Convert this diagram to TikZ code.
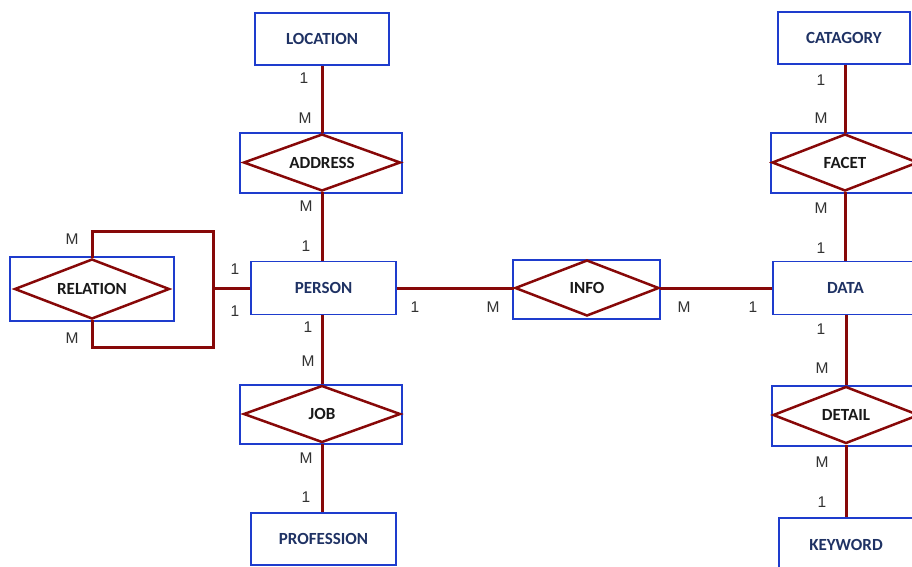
\documentclass[tikz,border=0pt]{standalone}
\usepackage{fontspec}
\setmainfont{Carlito}
\newfontfamily\cardfont{Liberation Sans}
\usetikzlibrary{shapes.geometric}
\definecolor{boxblue}{RGB}{30,60,205}
\definecolor{linered}{RGB}{135,8,8}
\definecolor{navy}{RGB}{31,50,100}
\definecolor{cardgray}{RGB}{50,50,50}
\tikzset{
  entity/.style={draw=boxblue, line width=1.5pt, rectangle, inner sep=0pt,
    font=\fontsize{17}{20}\selectfont\bfseries, text=navy},
  relbox/.style={draw=boxblue, line width=1.5pt, rectangle, inner sep=0pt},
  reldia/.style={draw=linered, line width=2.5pt, diamond, inner sep=0pt, aspect=2.6,
    font=\fontsize{17}{20}\selectfont\bfseries, text=black!90},
  conn/.style={draw=linered, line width=3pt},
  card/.style={font=\cardfont\fontsize{15.5}{18}\selectfont, text=cardgray, inner sep=0pt},
}
\begin{document}
\begin{tikzpicture}[x=1pt,y=-1pt]
\useasboundingbox (0,0) rectangle (912,566);
\clip (0,0) rectangle (912,566);
% entities
\node[entity, minimum width=134pt, minimum height=52pt] (location) at (322,39) {LOCATION};
\node[entity, minimum width=145pt, minimum height=53pt] (person) at (323.5,288) {PERSON};
\node[entity, minimum width=145pt, minimum height=52pt] (profession) at (323.5,539) {PROFESSION};
\node[entity, minimum width=145pt, minimum height=53pt] (data) at (845.5,288) {DATA};
\node[entity, minimum width=132pt, minimum height=52pt] (catagory) at (844,38) {CATAGORY};
\node[entity, minimum width=134pt, minimum height=60pt] (keyword) at (846,548) {};
\node[font=\fontsize{17}{20}\selectfont\bfseries, text=navy] (keywordtext) at (846,545) {KEYWORD};
% relationship boxes
\node[relbox, minimum width=162pt, minimum height=60pt] (addressbox) at (321,163) {};
\node[relbox, minimum width=162pt, minimum height=59pt] (jobbox) at (321,414.5) {};
\node[relbox, minimum width=164pt, minimum height=64pt] (relationbox) at (92,289) {};
\node[relbox, minimum width=147pt, minimum height=59pt] (infobox) at (586.5,289.5) {};
\node[relbox, minimum width=148pt, minimum height=60pt] (facetbox) at (845,163) {};
\node[relbox, minimum width=148pt, minimum height=60pt] (detailbox) at (846,416) {};
% diamonds
\node[reldia, minimum width=157pt, minimum height=57pt] (address) at (322,162.5) {ADDRESS};
\node[reldia, minimum width=157pt, minimum height=57pt] (job) at (322,414) {JOB};
\node[reldia, minimum width=155pt, minimum height=60pt] (relation) at (92,289) {RELATION};
\node[reldia, minimum width=144pt, minimum height=56pt] (info) at (587,288) {INFO};
\node[reldia, minimum width=146pt, minimum height=57pt] (facet) at (845,162.5) {FACET};
\node[reldia, minimum width=146pt, minimum height=57pt] (detail) at (846,415) {DETAIL};
% connectors
\draw[conn] (location.south) -- (address.north);
\draw[conn] (address.south) -- (address.south |- person.north);
\draw[conn] (job.north |- person.south) -- (job.north);
\draw[conn] (job.south) -- (job.south |- profession.north);
\draw[conn] (person.east) -- (info.west);
\draw[conn] (info.east) -- (data.west);
\draw[conn] (facet.north |- catagory.south) -- (facet.north);
\draw[conn] (facet.south) -- (facet.south |- data.north);
\draw[conn] (detail.north |- data.south) -- (detail.north);
\draw[conn] (detail.south) -- (detail.south |- keyword.north);
\coordinate (looptop) at (92,231);
\coordinate (loopright) at (213,288);
\coordinate (loopbot) at (92,347);
\draw[conn] (relation.north) -- (looptop) -| (loopright) |- (loopbot) -- (relation.south);
\draw[conn] (loopright) -- (person.west);
% cardinalities
\node[card] (c1) at (304,78) {1};
\node[card] (c2) at (305,118) {M};
\node[card] (c3) at (306,206) {M};
\node[card] (c4) at (306,246) {1};
\node[card] (c5) at (308,327) {1};
\node[card] (c6) at (308,361) {M};
\node[card] (c7) at (306,458) {M};
\node[card] (c8) at (306,497) {1};
\node[card] (c9) at (72,239) {M};
\node[card] (c10) at (72,338) {M};
\node[card] (c11) at (235,269) {1};
\node[card] (c12) at (235,311) {1};
\node[card] (c13) at (415,307) {1};
\node[card] (c14) at (493,307) {M};
\node[card] (c15) at (684,307) {M};
\node[card] (c16) at (753,307) {1};
\node[card] (c17) at (821,80) {1};
\node[card] (c18) at (821,118) {M};
\node[card] (c19) at (821,208) {M};
\node[card] (c20) at (821,248) {1};
\node[card] (c21) at (821,329) {1};
\node[card] (c22) at (822,368) {M};
\node[card] (c23) at (822,462) {M};
\node[card] (c24) at (822,502) {1};
\end{tikzpicture}
\end{document}
